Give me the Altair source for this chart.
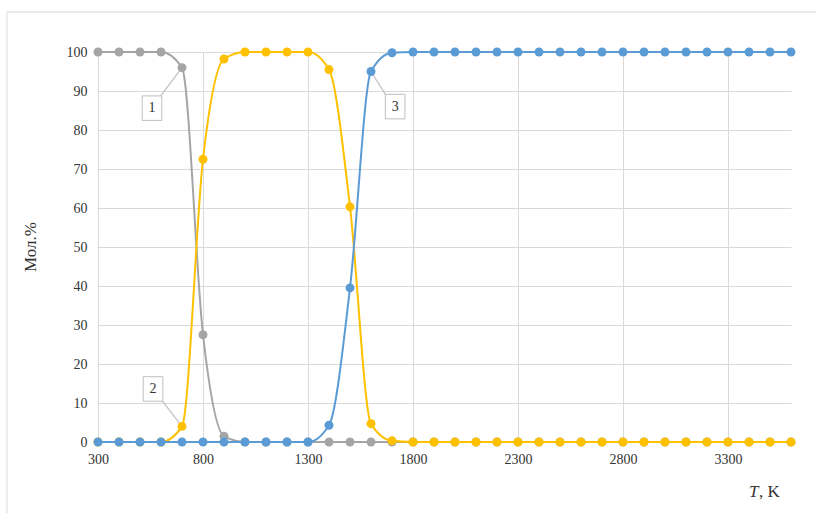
import altair as alt
import pandas as pd

T = [300, 400, 500, 600, 700, 800, 900, 1000, 1100, 1200, 1300, 1400, 1500,
     1600, 1700, 1800, 1900, 2000, 2100, 2200, 2300, 2400, 2500, 2600, 2700,
     2800, 2900, 3000, 3100, 3200, 3300, 3400, 3500, 3600]
s1 = [100, 100, 100, 100, 96, 27.5, 1.5, 0, 0, 0, 0, 0, 0, 0, 0, 0, 0, 0, 0,
      0, 0, 0, 0, 0, 0, 0, 0, 0, 0, 0, 0, 0, 0, 0]
s2 = [0, 0, 0, 0, 4, 72.5, 98.2, 100, 100, 100, 100, 95.5, 60.3, 4.7, 0.3, 0,
      0, 0, 0, 0, 0, 0, 0, 0, 0, 0, 0, 0, 0, 0, 0, 0, 0, 0]
s3 = [0, 0, 0, 0, 0, 0, 0, 0, 0, 0, 0, 4.3, 39.5, 95, 99.8, 100, 100, 100,
      100, 100, 100, 100, 100, 100, 100, 100, 100, 100, 100, 100, 100, 100,
      100, 100]
series_names = ["1", "2", "3"]
series_colors = ["#A5A5A5", "#FFC000", "#5B9BD5"]
x_ticks = [300, 800, 1300, 1800, 2300, 2800, 3300]
y_ticks = [0, 10, 20, 30, 40, 50, 60, 70, 80, 90, 100]

# callouts: label, box position (T, value), leader start (T, value), target point
call_label = ["1", "2", "3"]
call_bx = [557, 562, 1715]
call_by = [85.6, 13.6, 86.0]
call_lx = [597, 605, 1670]
call_ly = [88.6, 10.6, 89.0]
call_px = [700, 700, 1600]
call_py = [96, 4, 95]

FONT = "Liberation Serif"
TXT = "#333333"

xs = alt.Scale(domain=[300, 3600], nice=False, zero=False)
ys = alt.Scale(domain=[0, 100], nice=False)
xax = alt.Axis(values=x_ticks, format="d", title=None, grid=True, gridColor="#D9D9D9",
               domain=False, ticks=False, labelPadding=10, labelFlush=False)
yax = alt.Axis(values=y_ticks, format="d", title=None, grid=True, gridColor="#D9D9D9",
               domain=False, ticks=False, labelPadding=11)


def X(f):
    return alt.X(f, scale=xs, axis=xax)


def Y(f):
    return alt.Y(f, scale=ys, axis=yax)


layers = []

# callout leader lines (drawn under the data)
lead_df = pd.DataFrame({"x": call_lx, "y": call_ly, "x2": call_px, "y2": call_py})
layers.append(alt.Chart(lead_df).mark_rule(color="#BFBFBF", strokeWidth=1.2).encode(
    x=X("x:Q"), y=Y("y:Q"), x2="x2:Q", y2="y2:Q"))

for name, vals, col in zip(series_names, [s1, s2, s3], series_colors):
    df = pd.DataFrame({"T": T, "v": vals})
    layers.append(alt.Chart(df).mark_line(color=col, strokeWidth=2, interpolate="monotone").encode(
        x=X("T:Q"), y=Y("v:Q")))
    layers.append(alt.Chart(df).mark_circle(color=col, size=80, opacity=1).encode(
        x=X("T:Q"), y=Y("v:Q")))

box_df = pd.DataFrame({"x": call_bx, "y": call_by, "label": call_label})
layers.append(alt.Chart(box_df).mark_point(
    shape="M-0.8,-1L0.8,-1L0.8,1L-0.8,1Z", size=600, filled=True, fill="white",
    stroke="#BFBFBF", strokeWidth=1, opacity=1).encode(
    x=X("x:Q"), y=Y("y:Q")))
layers.append(alt.Chart(box_df).mark_text(font=FONT, fontSize=14, color=TXT).encode(
    x=X("x:Q"), y=Y("y:Q"), text="label:N"))

# outer frame (top and left edges)
layers.append(alt.Chart(pd.DataFrame({"a": [0]})).mark_rule(color="#D9D9D9", strokeWidth=1).encode(
    x=alt.value(-91), x2=alt.value(730), y=alt.value(-40)))
layers.append(alt.Chart(pd.DataFrame({"a": [0]})).mark_rule(color="#D9D9D9", strokeWidth=1).encode(
    x=alt.value(-91), y=alt.value(-40), y2=alt.value(470)))

# axis titles
layers.append(alt.Chart(pd.DataFrame({"t": ["Мол.%"]})).mark_text(
    font=FONT, fontSize=17, color=TXT, angle=270, baseline="middle", align="center").encode(
    x=alt.value(-67), y=alt.value(195), text="t:N"))
layers.append(alt.Chart(pd.DataFrame({"t": ["T"]})).mark_text(
    font=FONT, fontSize=17, fontStyle="italic", color=TXT, align="left", baseline="middle").encode(
    x=alt.value(651), y=alt.value(440), text="t:N"))
layers.append(alt.Chart(pd.DataFrame({"t": [", K"]})).mark_text(
    font=FONT, fontSize=17, color=TXT, align="left", baseline="middle").encode(
    x=alt.value(661), y=alt.value(440), text="t:N"))

chart = alt.layer(*layers).properties(
    width=693, height=390,
    autosize=alt.AutoSizeParams(type="none"),
    padding={"left": 98, "top": 52, "right": 25, "bottom": 71},
    background="white",
).configure_view(stroke=None).configure_axis(
    labelFont=FONT, labelFontSize=14, labelColor=TXT,
)

chart.save("out.html", embed_options={"renderer": "svg", "actions": False})
